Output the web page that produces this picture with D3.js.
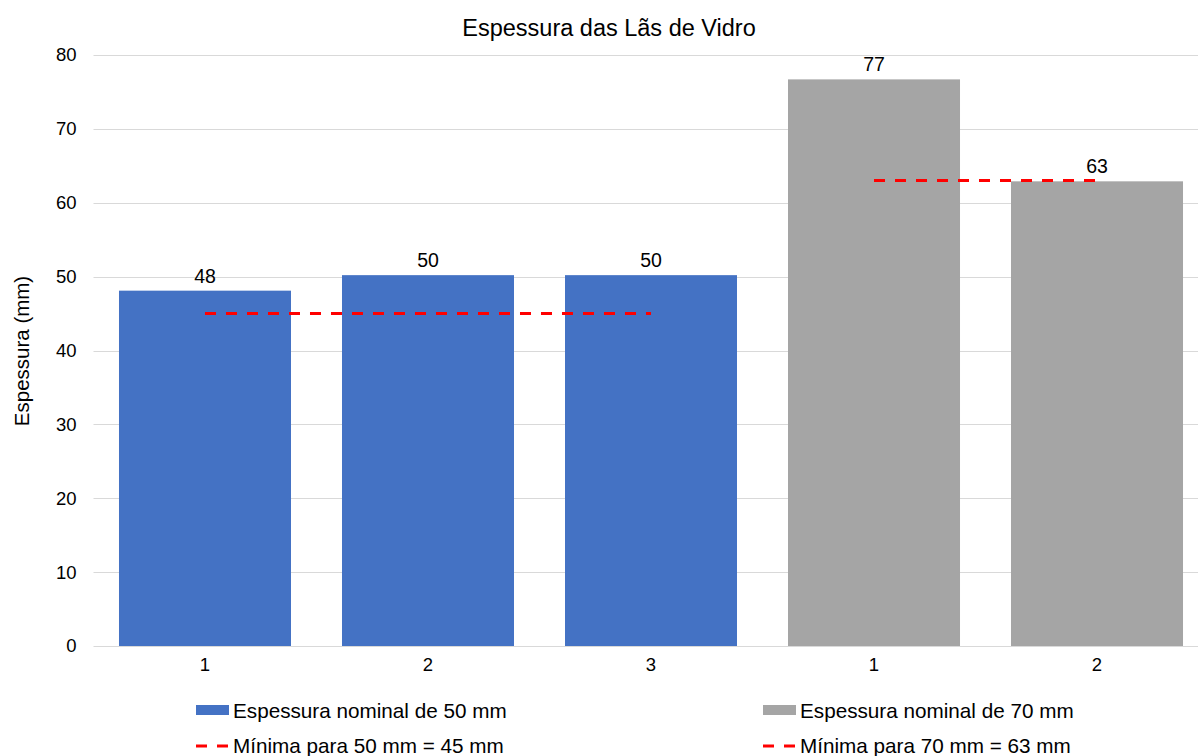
<!DOCTYPE html>
<html>
<head>
<meta charset="utf-8">
<script src="https://cdn.jsdelivr.net/npm/d3@7"></script>
<style>
  html, body { margin: 0; padding: 0; background: #fff; overflow: hidden; }
  svg { display: block; font-family: "Liberation Sans", Arial, sans-serif; }
</style>
</head>
<body>
<svg id="chart" width="1198" height="756"></svg>
<script>
// Category labels along the x axis (two groups of samples)
const categories = ["1", "2", "3", "1", "2"];
// Measured thickness (mm) per sample
const series50 = [48.1, 50.2, 50.2];
const series70 = [76.7, 62.9];
// Minimum thickness references
const min50 = 45;
const min70 = 63;
const yTicks = [0, 10, 20, 30, 40, 50, 60, 70, 80];
const seriesNames = ["Espessura nominal de 50 mm", "Espessura nominal de 70 mm"];
const minNames = ["Mínima para 50 mm = 45 mm", "Mínima para 70 mm = 63 mm"];

const blue = "#4472C4", gray = "#A5A5A5", red = "#FF0000", grid = "#D9D9D9";

const svg = d3.select("#chart");
const margin = { left: 93.5, right: 1208.5, top: 55, bottom: 646 };

const idx = categories.map((_, i) => i);
const x = d3.scaleBand().domain(idx).range([margin.left, margin.right])
  .paddingInner(0.2287).paddingOuter(0.1143);
const y = d3.scaleLinear().domain([0, 80]).range([margin.bottom, margin.top]);

// Horizontal gridlines
svg.append("g").selectAll("line").data(yTicks).join("line")
  .attr("x1", margin.left).attr("x2", margin.right)
  .attr("y1", d => Math.round(y(d)) + 0.5).attr("y2", d => Math.round(y(d)) + 0.5)
  .attr("stroke", grid).attr("stroke-width", 1);

// Y axis tick labels
const yAxis = svg.append("g").attr("transform", `translate(${margin.left - 17},0)`)
  .call(d3.axisLeft(y).tickValues(yTicks).tickSize(0).tickPadding(0));
yAxis.select(".domain").remove();
yAxis.selectAll("text").attr("font-size", 18.5).attr("fill", "#000")
  .attr("font-family", "Liberation Sans, Arial, sans-serif");

// Bars
const bars = [
  ...series50.map((v, i) => ({ i, v, c: blue })),
  ...series70.map((v, i) => ({ i: i + series50.length, v, c: gray }))
];
svg.append("g").selectAll("rect").data(bars).join("rect")
  .attr("x", d => x(d.i)).attr("width", x.bandwidth())
  .attr("y", d => y(d.v)).attr("height", d => y(0) - y(d.v))
  .attr("fill", d => d.c);

// Value labels
svg.append("g").selectAll("text").data(bars).join("text")
  .attr("x", d => x(d.i) + x.bandwidth() / 2).attr("y", d => y(d.v) - 8)
  .attr("text-anchor", "middle").attr("font-size", 19.5).attr("fill", "#000")
  .text(d => d3.format(".0f")(d.v));

// X axis labels
const xAxis = svg.append("g").attr("transform", `translate(0,${margin.bottom + 12})`)
  .call(d3.axisBottom(x).tickSize(0).tickPadding(0).tickFormat(i => categories[i]));
xAxis.select(".domain").remove();
xAxis.selectAll("text").attr("font-size", 18.5).attr("fill", "#000")
  .attr("font-family", "Liberation Sans, Arial, sans-serif");

// Minimum reference lines (dashed) spanning each group's category centres
const cx = i => x(i) + x.bandwidth() / 2;
const minLines = [
  { a: 0, b: series50.length - 1, v: min50 },
  { a: series50.length, b: categories.length - 1, v: min70 }
];
svg.append("g").selectAll("line").data(minLines).join("line")
  .attr("x1", d => cx(d.a)).attr("x2", d => cx(d.b))
  .attr("y1", d => y(d.v)).attr("y2", d => y(d.v))
  .attr("stroke", red).attr("stroke-width", 3).attr("stroke-dasharray", "11,10");

// Title
svg.append("text").attr("x", 609).attr("y", 36).attr("text-anchor", "middle")
  .attr("font-size", 23.5).attr("fill", "#000").text("Espessura das Lãs de Vidro");

// Y axis title
svg.append("text").attr("transform", "translate(29,351) rotate(-90)")
  .attr("text-anchor", "middle").attr("font-size", 20.5).attr("fill", "#000")
  .text("Espessura (mm)");

// Legend
const lg = svg.append("g");
const cols = [196, 763];
[blue, gray].forEach((c, k) => {
  lg.append("rect").attr("x", cols[k]).attr("y", 705).attr("width", 33).attr("height", 10).attr("fill", c);
  lg.append("text").attr("x", cols[k] + 37).attr("y", 718).attr("font-size", 20.7).attr("fill", "#000").text(seriesNames[k]);
  lg.append("line").attr("x1", cols[k]).attr("x2", cols[k] + 33).attr("y1", 746).attr("y2", 746)
    .attr("stroke", red).attr("stroke-width", 3).attr("stroke-dasharray", "11,10");
  lg.append("text").attr("x", cols[k] + 37).attr("y", 753).attr("font-size", 20.7).attr("fill", "#000").text(minNames[k]);
});
</script>
</body>
</html>
